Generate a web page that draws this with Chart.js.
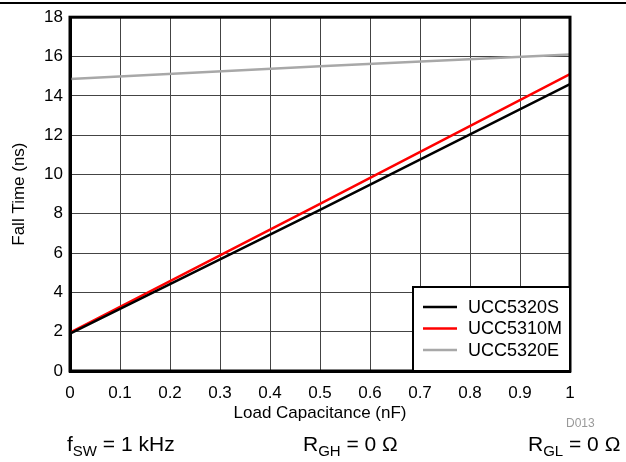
<!DOCTYPE html>
<html lang="en">
  <head>
    <meta charset="UTF-8" />
    <script src="https://cdn.jsdelivr.net/npm/chart.js"></script>
    <title>Fall Time vs Load Capacitance</title>
    <style>
      body {
        margin: 0;
        background: #fff;
        font-family: "Liberation Sans", Arial, sans-serif;
        color: #000;
      }
      .wrap {
        position: relative;
        width: 626px;
        height: 462px;
      }
      .topline {
        position: absolute;
        left: 0;
        top: 2px;
        width: 626px;
        height: 2px;
        background: #000;
      }
      .note {
        position: absolute;
        top: 432px;
        font-size: 21px;
        line-height: 24px;
        white-space: nowrap;
      }
      .note sub {
        font-size: 15px;
        vertical-align: -5px;
        line-height: 0;
      }
      .code {
        position: absolute;
        left: 566px;
        top: 416px;
        font-size: 12px;
        color: #999;
      }
    </style>
  </head>
  <body>
    <div class="wrap">
      <canvas id="fallChart" width="626" height="462"></canvas>
      <div class="topline"></div>
      <div class="code">D013</div>
      <div class="note" style="left: 67px">f<sub>SW</sub> = 1 kHz</div>
      <div class="note" style="left: 303px">R<sub>GH</sub> = 0 &Omega;</div>
      <div class="note" style="left: 528px">R<sub>GL</sub> = 0 &Omega;</div>
    </div>

    <script>
      // load capacitance (nF)
      const capacitance = [0, 0.5, 1];
      // fall time (ns)
      const ucc5320S = [1.9, 8.2, 14.6];
      const ucc5310M = [1.95, 8.5, 15.1];
      const ucc5320E = [14.85, 15.5, 16.1];

      const seriesNames = ["UCC5320S", "UCC5310M", "UCC5320E"];
      const seriesColors = ["#000000", "#ff0000", "#a8a8a8"];

      const toPoints = (ys) => capacitance.map((x, i) => ({ x: x, y: ys[i] }));

      // frame + legend box inside the plot
      const framePlugin = {
        id: "frame",
        afterDraw(chart) {
          const ctx = chart.ctx;
          const a = chart.chartArea;
          ctx.save();
          ctx.strokeStyle = "#000";
          ctx.lineWidth = 3;
          ctx.strokeRect(a.left, a.top, a.right - a.left, a.bottom - a.top);

          // legend
          const w = 157, h = 84;
          const lx = a.right - w, ly = a.bottom - h;
          ctx.fillStyle = "#fff";
          ctx.fillRect(lx, ly, w, h);
          ctx.lineWidth = 2;
          ctx.strokeStyle = "#000";
          ctx.strokeRect(lx, ly, w, h);
          ctx.font = "18px 'Liberation Sans', Arial, sans-serif";
          ctx.textBaseline = "middle";
          chart.data.datasets.forEach((ds, i) => {
            const y = ly + 20 + i * 21.5;
            ctx.strokeStyle = ds.borderColor;
            ctx.lineWidth = 2.5;
            ctx.beginPath();
            ctx.moveTo(lx + 10, y);
            ctx.lineTo(lx + 44, y);
            ctx.stroke();
            ctx.fillStyle = "#000";
            ctx.fillText(ds.label, lx + 55, y + 1);
          });
          ctx.restore();
        },
      };

      const tickFont = { family: "'Liberation Sans', Arial, sans-serif", size: 17 };

      new Chart(document.getElementById("fallChart").getContext("2d"), {
        type: "line",
        data: {
          datasets: [ucc5320S, ucc5310M, ucc5320E].map((ys, i) => ({
            label: seriesNames[i],
            data: toPoints(ys),
            borderColor: seriesColors[i],
            borderWidth: 2.5,
            pointRadius: 0,
            fill: false,
            tension: 0,
          })),
        },
        options: {
          responsive: false,
          animation: false,
          layout: { padding: { top: 17, right: 56, bottom: 38, left: 0 } },
          plugins: { legend: { display: false }, tooltip: { enabled: false } },
          scales: {
            x: {
              type: "linear",
              min: 0,
              max: 1,
              ticks: {
                stepSize: 0.1,
                color: "#000",
                font: tickFont,
                padding: 12,
                maxRotation: 0,
                callback: (v) => String(Number(v.toFixed(1))),
              },
              grid: { color: "#444", lineWidth: 1, drawTicks: false },
              border: { color: "#000", width: 3 },
              title: {
                display: true,
                text: "Load Capacitance (nF)",
                color: "#000",
                font: tickFont,
                padding: { top: 0, bottom: 0 },
              },
              afterFit: (s) => { s.height = 53; },
            },
            y: {
              min: 0,
              max: 18,
              ticks: { stepSize: 2, color: "#000", font: tickFont, padding: 7 },
              grid: { color: "#444", lineWidth: 1, drawTicks: false },
              border: { color: "#000", width: 3 },
              title: {
                display: true,
                text: "Fall Time (ns)",
                color: "#000",
                font: tickFont,
                padding: { top: 9, bottom: 0 },
              },
              afterFit: (s) => { s.width = 70; },
            },
          },
        },
        plugins: [framePlugin],
      });
    </script>
  </body>
</html>
